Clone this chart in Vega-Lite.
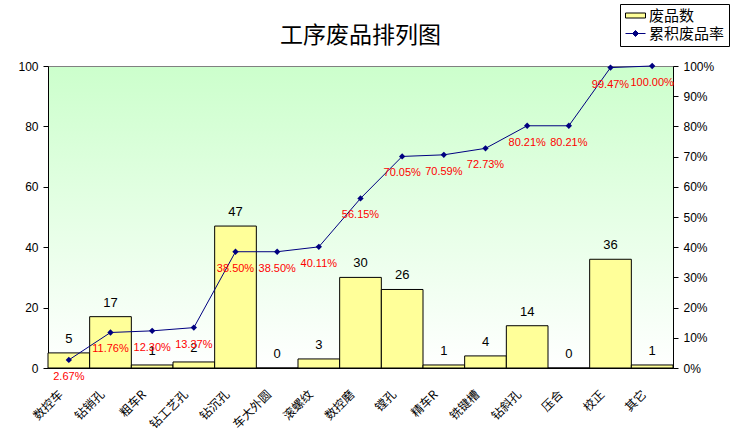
{
  "$schema": "https://vega.github.io/schema/vega-lite/v6.json",
  "description": "Pareto chart of scrap counts by process with cumulative scrap rate.",
  "autosize": "none",
  "padding": {"left": 48, "top": 66, "right": 59, "bottom": 75},
  "width": 625,
  "height": 302,
  "background": "white",
  "title": {
    "text": "工序废品排列图",
    "font": "Noto Sans CJK SC",
    "fontSize": 23,
    "fontWeight": "normal",
    "color": "black",
    "anchor": "middle",
    "frame": "group",
    "offset": 0,
    "dy": 44
  },
  "data": {
    "values": [
      {"cat": "数控车", "count": 5, "cum": 0.0267},
      {"cat": "钻销孔", "count": 17, "cum": 0.1176},
      {"cat": "粗车R", "count": 1, "cum": 0.1230},
      {"cat": "钻工艺孔", "count": 2, "cum": 0.1337},
      {"cat": "钻沉孔", "count": 47, "cum": 0.3850},
      {"cat": "车大外圆", "count": 0, "cum": 0.3850},
      {"cat": "滚螺纹", "count": 3, "cum": 0.4011},
      {"cat": "数控磨", "count": 30, "cum": 0.5615},
      {"cat": "镗孔", "count": 26, "cum": 0.7005},
      {"cat": "精车R", "count": 1, "cum": 0.7059},
      {"cat": "铣键槽", "count": 4, "cum": 0.7273},
      {"cat": "钻斜孔", "count": 14, "cum": 0.8021},
      {"cat": "压合", "count": 0, "cum": 0.8021},
      {"cat": "校正", "count": 36, "cum": 0.9947},
      {"cat": "其它", "count": 1, "cum": 1.0}
    ]
  },
  "encoding": {
    "x": {
      "field": "cat",
      "type": "nominal",
      "sort": null,
      "scale": {"paddingInner": 0, "paddingOuter": 0},
      "axis": {
        "title": null,
        "labelAngle": -45,
        "labelAlign": "right",
        "labelBaseline": "middle",
        "labelPadding": 24,
        "labelOffset": -8,
        "labelFont": "Noto Sans CJK SC",
        "labelFontSize": 12,
        "labelColor": "black",
        "ticks": false,
        "domainColor": "black"
      }
    }
  },
  "layer": [
    {
      "encoding": {
        "y": {
          "field": "count",
          "type": "quantitative",
          "scale": {"domain": [0, 100], "nice": false},
          "axis": {
            "title": null,
            "orient": "left",
            "values": [0, 20, 40, 60, 80, 100],
            "grid": false,
            "tickSize": 5,
            "labelPadding": 5
          }
        }
      },
      "layer": [
        {
          "mark": {"type": "bar", "stroke": "black", "strokeWidth": 1},
          "encoding": {
            "fill": {
              "datum": "废品数",
              "scale": {"domain": ["废品数", "累积废品率"], "range": ["#FFFF99", "#000080"]},
              "legend": {
                "title": null,
                "orient": "none",
                "legendX": 572,
                "legendY": -62,
                "strokeColor": "black",
                "padding": 4,
                "rowPadding": 2,
                "symbolSize": 100,
                "symbolOffset": 4,
                "symbolType": {"expr": "datum.value === '废品数' ? 'M-2,-0.5H2V0.5H-2Z' : 'M-2,0H2M0,-0.6L0.6,0L0,0.6L-0.6,0Z'"},
                "symbolStrokeColor": {"expr": "datum.value === '废品数' ? 'black' : '#000080'"},
                "symbolStrokeWidth": 1,
                "labelFont": "Noto Sans CJK SC",
                "labelFontSize": 15,
                "labelColor": "black",
                "labelOffset": 6
              }
            }
          }
        },
        {
          "mark": {"type": "text", "dy": -14, "baseline": "middle", "font": "Liberation Sans", "fontSize": 13, "color": "black"},
          "encoding": {"text": {"field": "count", "type": "quantitative"}}
        }
      ]
    },
    {
      "encoding": {
        "y": {
          "field": "cum",
          "type": "quantitative",
          "scale": {"domain": [0, 1], "nice": false},
          "axis": {
            "title": null,
            "orient": "right",
            "values": [0, 0.1, 0.2, 0.3, 0.4, 0.5, 0.6, 0.7, 0.8, 0.9, 1],
            "format": ".0%",
            "grid": false,
            "tickSize": 5,
            "labelPadding": 5
          }
        }
      },
      "layer": [
        {
          "mark": {"type": "line", "color": "#000080", "strokeWidth": 1},
          "encoding": {}
        },
        {
          "mark": {"type": "point", "shape": "diamond", "filled": true, "size": 40, "color": "#000080", "opacity": 1},
          "encoding": {}
        },
        {
          "mark": {"type": "text", "dy": 17, "baseline": "middle", "font": "Liberation Sans", "fontSize": 11, "color": "#FF0000"},
          "encoding": {"text": {"field": "cum", "type": "quantitative", "format": ".2%"}}
        }
      ]
    }
  ],
  "resolve": {"scale": {"y": "independent"}},
  "config": {
    "view": {
      "stroke": "#808080",
      "fill": {
        "gradient": "linear",
        "x1": 0, "y1": 0, "x2": 0, "y2": 1,
        "stops": [
          {"offset": 0, "color": "#CCFFCC"},
          {"offset": 1, "color": "#FFFFFF"}
        ]
      }
    },
    "axis": {
      "labelFont": "Liberation Sans",
      "labelFontSize": 12,
      "labelColor": "black",
      "domainColor": "black",
      "tickColor": "black"
    }
  }
}
